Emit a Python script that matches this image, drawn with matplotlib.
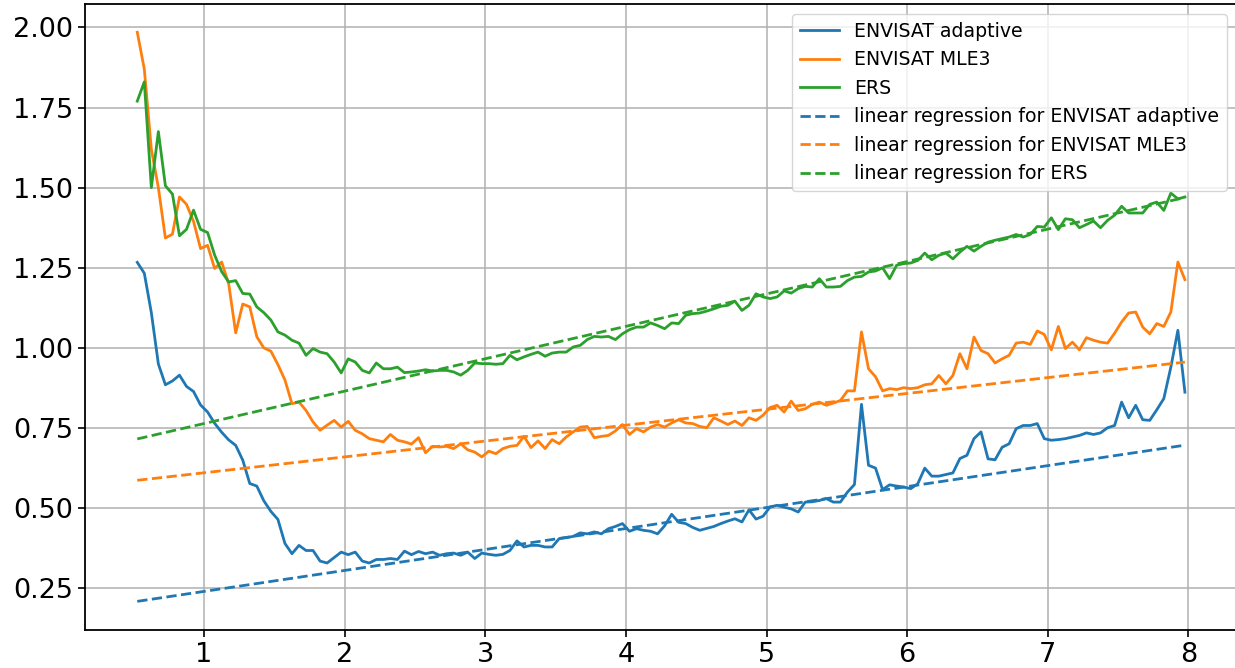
import numpy as np
import matplotlib
matplotlib.use("Agg")
import matplotlib.pyplot as plt

# bin centres of the x grid (0.05 wide bins from 0.5 to 8.0)
x = np.linspace(0.525, 7.975, 150)

envisat_adaptive = [
    1.267, 1.233, 1.110, 0.950, 0.885, 0.897, 0.915, 0.880, 0.864, 0.822,
    0.800, 0.765, 0.737, 0.713, 0.696, 0.650, 0.577, 0.569, 0.523, 0.490,
    0.465, 0.390, 0.358, 0.384, 0.368, 0.368, 0.335, 0.329, 0.346, 0.363,
    0.355, 0.363, 0.335, 0.329, 0.340, 0.340, 0.343, 0.340, 0.366, 0.355,
    0.365, 0.358, 0.363, 0.353, 0.358, 0.360, 0.353, 0.363, 0.343, 0.360,
    0.356, 0.353, 0.356, 0.368, 0.398, 0.379, 0.384, 0.384, 0.379, 0.379,
    0.405, 0.408, 0.412, 0.423, 0.420, 0.426, 0.420, 0.436, 0.443, 0.452,
    0.428, 0.436, 0.431, 0.428, 0.420, 0.445, 0.481, 0.456, 0.452, 0.440,
    0.431, 0.437, 0.443, 0.452, 0.460, 0.467, 0.457, 0.495, 0.466, 0.475,
    0.504, 0.509, 0.503, 0.498, 0.488, 0.519, 0.520, 0.524, 0.530, 0.519,
    0.519, 0.550, 0.574, 0.824, 0.634, 0.625, 0.558, 0.573, 0.569, 0.566,
    0.561, 0.576, 0.625, 0.600, 0.600, 0.605, 0.610, 0.655, 0.665, 0.717,
    0.738, 0.654, 0.651, 0.690, 0.701, 0.748, 0.758, 0.758, 0.764, 0.717,
    0.712, 0.714, 0.717, 0.722, 0.727, 0.735, 0.730, 0.735, 0.751, 0.758,
    0.831, 0.782, 0.821, 0.776, 0.774, 0.807, 0.842, 0.940, 1.055, 0.862,
]

envisat_mle3 = [
    1.985, 1.870, 1.620, 1.500, 1.343, 1.355, 1.471, 1.448, 1.395, 1.310,
    1.320, 1.248, 1.268, 1.200, 1.047, 1.137, 1.128, 1.035, 1.000, 0.990,
    0.948, 0.900, 0.826, 0.831, 0.805, 0.769, 0.743, 0.759, 0.774, 0.753,
    0.771, 0.743, 0.732, 0.717, 0.712, 0.707, 0.730, 0.712, 0.707, 0.700,
    0.720, 0.673, 0.693, 0.691, 0.693, 0.686, 0.701, 0.682, 0.675, 0.660,
    0.678, 0.670, 0.686, 0.693, 0.696, 0.724, 0.689, 0.710, 0.686, 0.714,
    0.701, 0.722, 0.738, 0.753, 0.755, 0.720, 0.724, 0.727, 0.741, 0.761,
    0.730, 0.748, 0.738, 0.753, 0.761, 0.753, 0.766, 0.776, 0.766, 0.764,
    0.755, 0.751, 0.782, 0.772, 0.761, 0.772, 0.758, 0.782, 0.774, 0.790,
    0.814, 0.821, 0.800, 0.834, 0.805, 0.810, 0.824, 0.831, 0.821, 0.828,
    0.836, 0.866, 0.866, 1.050, 0.935, 0.910, 0.866, 0.873, 0.870, 0.876,
    0.873, 0.876, 0.885, 0.888, 0.914, 0.888, 0.914, 0.982, 0.935, 1.034,
    0.992, 0.982, 0.953, 0.966, 0.977, 1.015, 1.018, 1.011, 1.053, 1.042,
    0.994, 1.067, 0.998, 1.018, 0.994, 1.032, 1.024, 1.018, 1.015, 1.046,
    1.081, 1.109, 1.112, 1.065, 1.044, 1.076, 1.067, 1.112, 1.268, 1.213,
]

ers = [
    1.770, 1.830, 1.500, 1.675, 1.506, 1.480, 1.350, 1.370, 1.430, 1.370,
    1.360, 1.290, 1.238, 1.206, 1.210, 1.170, 1.168, 1.128, 1.110, 1.087,
    1.050, 1.040, 1.024, 1.015, 0.977, 0.998, 0.987, 0.982, 0.956, 0.922,
    0.966, 0.956, 0.930, 0.922, 0.953, 0.935, 0.935, 0.940, 0.923, 0.925,
    0.928, 0.932, 0.928, 0.930, 0.930, 0.925, 0.915, 0.930, 0.953, 0.951,
    0.951, 0.949, 0.951, 0.977, 0.963, 0.972, 0.980, 0.987, 0.974, 0.984,
    0.987, 0.987, 1.003, 1.008, 1.026, 1.036, 1.034, 1.036, 1.026, 1.044,
    1.057, 1.065, 1.065, 1.078, 1.070, 1.060, 1.078, 1.076, 1.102, 1.107,
    1.109, 1.115, 1.122, 1.130, 1.133, 1.146, 1.117, 1.133, 1.169, 1.159,
    1.154, 1.159, 1.178, 1.171, 1.185, 1.192, 1.190, 1.216, 1.190, 1.190,
    1.192, 1.210, 1.221, 1.223, 1.237, 1.240, 1.250, 1.216, 1.258, 1.263,
    1.265, 1.273, 1.296, 1.275, 1.289, 1.296, 1.278, 1.299, 1.317, 1.302,
    1.317, 1.330, 1.336, 1.341, 1.346, 1.354, 1.346, 1.354, 1.379, 1.377,
    1.406, 1.369, 1.403, 1.400, 1.375, 1.385, 1.396, 1.375, 1.398, 1.414,
    1.442, 1.421, 1.421, 1.421, 1.448, 1.455, 1.429, 1.483, 1.465, 1.471,
]

series_names = ["ENVISAT adaptive", "ENVISAT MLE3", "ERS"]
series_colors = ["#1f77b4", "#ff7f0e", "#2ca02c"]

# linear regression coefficients (slope, intercept) for each series
reg_slope = [0.0654, 0.0495, 0.1011]
reg_intercept = [0.175, 0.561, 0.663]

fig = plt.figure(figsize=(12.35, 6.68), dpi=100)
ax = fig.add_axes([0.0688, 0.0569, 0.9330, 0.9371])

for vals, name, col in zip([envisat_adaptive, envisat_mle3, ers], series_names, series_colors):
    ax.plot(x, vals, color=col, lw=2.0, label=name)

for slope, icpt, name, col in zip(reg_slope, reg_intercept, series_names, series_colors):
    ax.plot(x, slope * x + icpt, color=col, lw=2.0, ls="--",
            label=f"linear regression for {name}")

ax.set_xlim(0.153, 8.347)
ax.set_ylim(0.12, 2.073)
ax.set_xticks([1, 2, 3, 4, 5, 6, 7, 8])
ax.set_yticks([0.25, 0.50, 0.75, 1.00, 1.25, 1.50, 1.75, 2.00])
ax.yaxis.set_major_formatter(matplotlib.ticker.FormatStrFormatter("%.2f"))
ax.tick_params(labelsize=19.5, length=5, width=1.2)
ax.grid(True, color="#b0b0b0", lw=1.1)
for sp in ax.spines.values():
    sp.set_linewidth(1.3)

leg = ax.legend(loc="upper right", fontsize=13.6, handlelength=2.1,
                labelspacing=0.5, borderaxespad=0.55)
for h in leg.get_lines():
    h.set_linewidth(2.0)

fig.savefig("out.png", dpi=100)
